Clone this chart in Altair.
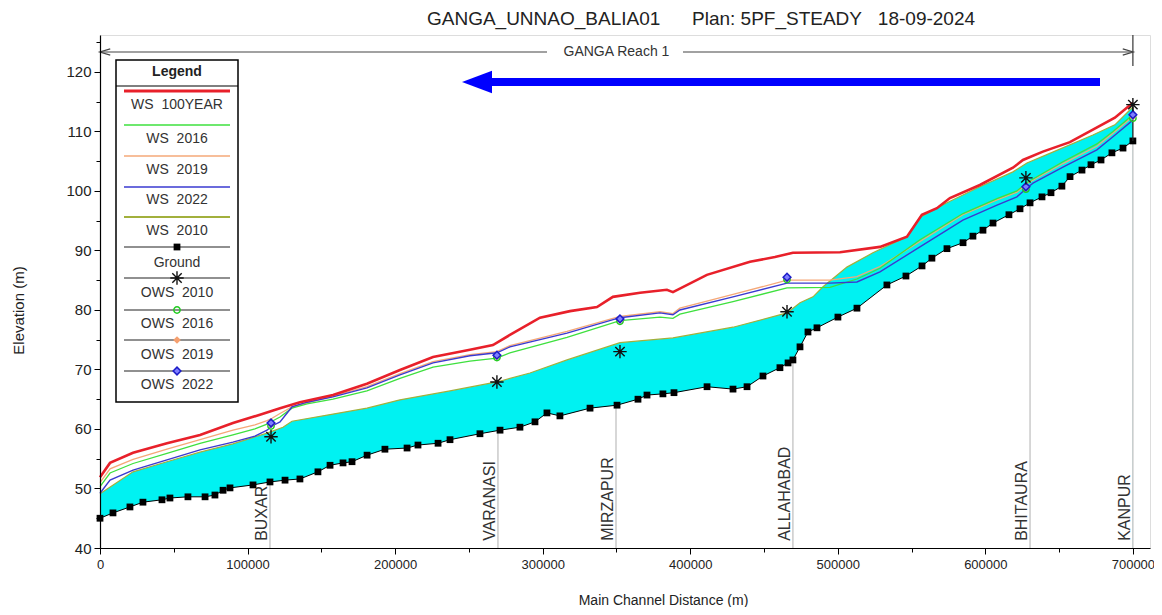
import altair as alt
import pandas as pd

FONT = "Liberation Sans"
TXT = "#222222"

# ---------------- data ----------------
ground_d = [0, 8800, 20300, 29100, 42000, 47400, 59600, 71200, 77900, 83400, 88100, 103700, 115200, 125400,
            135500, 147700, 155900, 164700, 170800, 181000, 193100, 208100, 215500, 229100, 237200, 257500,
            271100, 284600, 294800, 302900, 311700, 332100, 350400, 364600, 370700, 381500, 389000, 411400,
            429000, 438500, 449300, 460800, 466300, 469600, 474400, 479800, 485900, 500100, 513000, 533300,
            546200, 557100, 563800, 574000, 584900, 591600, 598400, 605200, 616000, 623500, 630300, 638400,
            644500, 651900, 657400, 665500, 671600, 678400, 685800, 693300, 700000]
ground_e = [45.0, 45.9, 46.9, 47.7, 48.1, 48.4, 48.6, 48.6, 48.9, 49.7, 50.1, 50.6, 51.1, 51.4, 51.6, 52.8,
            53.9, 54.3, 54.5, 55.6, 56.6, 56.8, 57.3, 57.6, 58.2, 59.2, 59.8, 60.3, 61.2, 62.7, 62.2, 63.5,
            64.0, 65.0, 65.7, 65.9, 66.1, 67.1, 66.7, 67.1, 68.9, 70.3, 71.1, 71.6, 73.8, 76.3, 77.0, 78.8,
            80.3, 84.2, 85.7, 87.4, 88.7, 90.3, 91.3, 92.4, 93.4, 94.6, 96.0, 97.0, 98.0, 99.0, 99.7, 100.8,
            102.4, 103.5, 104.4, 105.2, 106.4, 107.2, 108.4]

ws100_d = [0, 6800, 22400, 45400, 67800, 90100, 108400, 122000, 135500, 157900, 180900, 203300, 225700,
           250700, 266300, 277800, 298200, 318500, 336800, 347600, 366000, 384200, 388300, 411300, 440500,
           457400, 469600, 501500, 528600, 546900, 557000, 567200, 576000, 596300, 618700, 625500, 639000,
           657300, 672900, 687800, 700000]
ws100_e = [51.9, 54.3, 56.0, 57.6, 59.0, 61.0, 62.4, 63.5, 64.5, 65.7, 67.6, 69.9, 72.1, 73.3, 74.1, 75.8,
           78.7, 79.8, 80.5, 82.2, 82.9, 83.4, 83.0, 85.9, 88.1, 88.9, 89.6, 89.7, 90.6, 92.3, 96.0, 97.1,
           98.8, 101.0, 103.9, 105.2, 106.6, 108.2, 110.3, 112.3, 114.8]

ws_d = [0, 6800, 22400, 45400, 67800, 90100, 105000, 113200, 116600, 122000, 130100, 140300, 157900, 180900,
        203300, 225700, 250700, 269000, 277800, 316500, 352400, 379500, 388300, 393000, 429000, 465600,
        494700, 513000, 528600, 555700, 584800, 607900, 621400, 628200, 632300, 652600, 675600, 686500, 700000]
ws2022_e = [49.2, 51.4, 53.1, 54.8, 56.5, 57.8, 58.8, 59.8, 60.5, 61.2, 63.7, 64.5, 65.4, 66.9, 69.1, 71.1,
            72.3, 72.8, 73.8, 76.1, 78.7, 79.5, 79.2, 80.0, 82.2, 84.5, 84.5, 84.7, 86.4, 90.6, 95.1, 97.6,
            99.0, 100.5, 101.3, 104.0, 106.9, 109.1, 111.9]
ws2016_e = [50.3, 52.6, 54.2, 55.9, 57.6, 59.0, 60.0, 60.8, 61.3, 62.0, 63.5, 64.2, 65.0, 66.4, 68.5, 70.4,
            71.4, 71.9, 72.8, 75.4, 78.2, 78.8, 78.6, 79.3, 81.4, 83.7, 83.8, 85.2, 87.0, 91.8, 96.2, 98.7,
            100.0, 101.4, 102.0, 104.9, 107.9, 110.0, 112.8]
ws2019_e = [51.0, 53.3, 54.9, 56.6, 58.2, 59.8, 60.7, 61.4, 61.8, 62.6, 63.7, 64.4, 65.5, 67.1, 69.3, 71.3,
            72.5, 73.0, 74.0, 76.4, 78.9, 79.7, 79.4, 80.3, 82.6, 85.0, 85.0, 85.6, 87.3, 91.5, 96.0, 98.5,
            99.8, 101.2, 101.8, 104.6, 107.5, 109.7, 112.5]

ws2010_d = [0, 22400, 45400, 67800, 90100, 113200, 124000, 130100, 157900, 180900, 203300, 237200, 269000,
            291400, 316500, 352400, 388300, 429000, 465600, 474400, 483200, 490000, 506200, 523800, 546900,
            555700, 574000, 596300, 618700, 628200, 641700, 672900, 687800, 700000]
ws2010_e = [49.1, 52.8, 54.5, 56.1, 57.5, 59.3, 60.3, 61.3, 62.5, 63.5, 64.9, 66.4, 67.9, 69.4, 71.6, 74.5,
            75.3, 77.1, 79.5, 81.2, 82.2, 83.9, 87.2, 89.6, 92.3, 95.6, 98.0, 100.7, 103.2, 104.7, 106.1,
            109.4, 111.1, 114.1]

station_names = ["BUXAR", "VARANASI", "MIRZAPUR", "ALLAHABAD", "BHITAURA", "KANPUR"]
station_d = [115200, 269700, 349700, 469600, 630300, 700000]
station_ground = [51.1, 59.8, 64.0, 71.6, 98.0, 108.4]

ows_d = [115900, 269000, 352400, 465600, 627500, 700000]
ows2010_e = [58.7, 67.9, 73.0, 79.7, 102.2, 114.5]
ows2016_e = [60.5, 72.0, 78.1, 85.1, 100.3, 112.2]
ows2019_e = [60.8, 72.2, 78.3, 85.3, 100.5, 112.5]
ows2022_e = [61.0, 72.4, 78.5, 85.5, 100.7, 112.8]

legend_labels = ["WS\u00a0\u00a0100YEAR", "WS\u00a0\u00a02016", "WS\u00a0\u00a02019", "WS\u00a0\u00a02022",
                 "WS\u00a0\u00a02010", "Ground", "OWS\u00a0\u00a02010", "OWS\u00a0\u00a02016",
                 "OWS\u00a0\u00a02019", "OWS\u00a0\u00a02022"]

C_RED, C_GREEN, C_ORANGE, C_BLUE, C_OLIVE = "#e8202a", "#3ee03e", "#f5a878", "#3a3ad0", "#a2b03c"
C_CYAN = "#00f2f2"

# ---------------- layout ----------------
W, H = 1050, 513
LEFT, TOP = 100, 35
XMAX = 711600
YMIN, YMAX = 40, 126.2


def pxd(px):
    return (px - LEFT) * XMAX / W


def pye(py):
    return YMIN + (TOP + H - py) * (YMAX - YMIN) / H


XS = alt.Scale(domain=[0, XMAX], nice=False, zero=False)
YS = alt.Scale(domain=[YMIN, YMAX], nice=False, zero=False)

XA = alt.Axis(values=list(range(0, 700001, 50000)),
              labelExpr="datum.value % 100000 === 0 ? format(datum.value, 'd') : ''",
              title="Main Channel Distance (m)", titleX=563, titleY=52, titleBaseline="middle",
              titleFont=FONT, titleFontSize=14, titleFontWeight="normal", titleColor=TXT,
              labelFont=FONT, labelFontSize=13, labelColor=TXT, labelFlush=False, labelOverlap=False,
              labelPadding=4, tickColor="black", domainColor="black", domainWidth=1.2,
              tickSize={"condition": {"test": "datum.value % 100000 === 0", "value": 6}, "value": 4},
              grid=False, zindex=1)
YA = alt.Axis(values=list(range(40, 126, 5)),
              labelExpr="datum.value % 10 === 0 ? datum.label : ''",
              title="Elevation (m)", titleX=-82, titleY=275, titleBaseline="middle", titleAlign="center",
              titleFont=FONT, titleFontSize=15, titleFontWeight="normal", titleColor=TXT,
              labelFont=FONT, labelFontSize=15, labelColor=TXT, labelOverlap=False, labelPadding=3,
              tickColor="black", domainColor="black", domainWidth=1.2,
              tickSize={"condition": {"test": "datum.value % 10 === 0", "value": 6}, "value": 4},
              grid=False, zindex=1)


def X(f="d"):
    return alt.X(f"{f}:Q", scale=XS, axis=XA)


def Y(f="e"):
    return alt.Y(f"{f}:Q", scale=YS, axis=YA)


def frame(d, e):
    return pd.DataFrame({"d": d, "e": e, "base": [YMIN] * len(d)})


STAR = "M-1,0L1,0M0,-1L0,1M-0.7,-0.7L0.7,0.7M-0.7,0.7L0.7,-0.7"


def m_square(df):
    return alt.Chart(df).mark_point(shape="square", filled=True, color="black", size=46, opacity=1).encode(x=X(), y=Y())


def m_star(df):
    return alt.Chart(df).mark_point(shape=STAR, filled=False, color="#111111", size=180, strokeWidth=1.4,
                                    opacity=1).encode(x=X(), y=Y())


def m_circle(df):
    return alt.Chart(df).mark_point(shape="circle", filled=False, color="#22cc22", size=40, strokeWidth=1.5,
                                    opacity=1).encode(x=X(), y=Y())


def m_odiamond(df):
    return alt.Chart(df).mark_point(shape="diamond", filled=True, color="#f5a070", size=60,
                                    opacity=1).encode(x=X(), y=Y())


def m_bdiamond(df):
    return alt.Chart(df).mark_point(shape="diamond", filled=True, fill="#7f7fff", stroke="#1c1cc8",
                                    strokeWidth=1.5, size=60, opacity=1).encode(x=X(), y=Y())


layers = []

# cyan flow area between WS 2010 and the ground
w10 = frame(ws2010_d, ws2010_e)
gr = frame(ground_d, ground_e)
layers.append(alt.Chart(w10).mark_area(color=C_CYAN, opacity=1).encode(x=X(), y=Y(), y2="base:Q"))
layers.append(alt.Chart(gr).mark_area(color="white", opacity=1).encode(x=X(), y=Y(), y2="base:Q"))

# station lines and labels
st = pd.DataFrame({"d": station_d, "e": station_ground, "base": [YMIN] * 6, "name": station_names,
                   "ly": [41.2] * 6})
layers.append(alt.Chart(st).mark_rule(color="#bdbdbd", strokeWidth=1.2).encode(x=X(), y=Y(), y2="base:Q"))
layers.append(alt.Chart(st).mark_text(angle=270, align="left", baseline="bottom", font=FONT, fontSize=16,
                                      color="#333333").encode(x=X(), y=Y("ly"), text="name:N"))

# water surface lines
layers.append(alt.Chart(w10).mark_line(color=C_OLIVE, strokeWidth=1.2).encode(x=X(), y=Y()))
layers.append(alt.Chart(frame(ws_d, ws2019_e)).mark_line(color=C_ORANGE, strokeWidth=1.3).encode(x=X(), y=Y()))
layers.append(alt.Chart(frame(ws_d, ws2016_e)).mark_line(color=C_GREEN, strokeWidth=1.3).encode(x=X(), y=Y()))
layers.append(alt.Chart(frame(ws_d, ws2022_e)).mark_line(color=C_BLUE, strokeWidth=1.4).encode(x=X(), y=Y()))
layers.append(alt.Chart(frame(ws100_d, ws100_e)).mark_line(color=C_RED, strokeWidth=2.6).encode(x=X(), y=Y()))

# ground profile
layers.append(alt.Chart(gr).mark_line(color="black", strokeWidth=1).encode(x=X(), y=Y()))
layers.append(m_square(gr))
kan = pd.DataFrame({"d": [station_d[-1]], "e": [ws2010_e[-1]], "e2": [station_ground[-1]]})
layers.append(alt.Chart(kan).mark_rule(color="#222222", strokeWidth=1.3).encode(x=X(), y=Y(), y2="e2:Q"))

# observed water surfaces
layers.append(m_circle(frame(ows_d, ows2016_e)))
layers.append(m_odiamond(frame(ows_d, ows2019_e)))
layers.append(m_bdiamond(frame(ows_d, ows2022_e)))
layers.append(m_star(frame(ows_d, ows2010_e)))

# reach bracket "GANGA Reach 1"
ry = pye(52)
br = pd.DataFrame({"d": [0, pxd(683)], "x2": [pxd(547), 700000], "e": [ry, ry]})
layers.append(alt.Chart(br).mark_rule(color="#444444", strokeWidth=1.1).encode(x=X(), x2="x2:Q", y=Y()))
tick = pd.DataFrame({"d": [700000], "e": [YMAX], "e2": [pye(66)]})
layers.append(alt.Chart(tick).mark_rule(color="#444444", strokeWidth=1.3).encode(x=X(), y=Y(), y2="e2:Q"))
layers.append(alt.Chart(pd.DataFrame({"d": [pxd(105)], "e": [ry]})).mark_point(
    shape="M1,-0.6L-1,0L1,0.6", filled=False, color="#444444", size=110, strokeWidth=1.2, opacity=1
).encode(x=X(), y=Y()))
layers.append(alt.Chart(pd.DataFrame({"d": [pxd(1128)], "e": [ry]})).mark_point(
    shape="M-1,-0.6L1,0L-1,0.6", filled=False, color="#444444", size=110, strokeWidth=1.2, opacity=1
).encode(x=X(), y=Y()))
layers.append(alt.Chart(pd.DataFrame({"d": [350000], "e": [ry], "t": ["GANGA Reach 1"]})).mark_text(
    font=FONT, fontSize=14, color="#333333", baseline="middle", align="center"
).encode(x=X(), y=Y(), text="t:N"))

# blue flow-direction arrow
ay = pye(82)
arr = pd.DataFrame({"d": [pxd(477)], "x2": [pxd(1100)], "e": [ay]})
layers.append(alt.Chart(arr).mark_rule(color="#0000ff", strokeWidth=8, strokeCap="butt").encode(
    x=X(), x2="x2:Q", y=Y()))
layers.append(alt.Chart(arr).mark_point(shape="M-1,0L1,-0.75L1,0.75Z", filled=True, color="#0000ff",
                                        size=900, opacity=1).encode(x=X(), y=Y()))

# legend box (drawn inside the plot, as in the reference)
box = pd.DataFrame({"d": [pxd(116)], "x2": [pxd(238)], "e": [pye(60)], "e2": [pye(402)]})
layers.append(alt.Chart(box).mark_rect(fill="white", stroke="black", strokeWidth=1.5).encode(
    x=X(), x2="x2:Q", y=Y(), y2="e2:Q"))
hdr = pd.DataFrame({"d": [pxd(116)], "x2": [pxd(238)], "e": [pye(86)]})
layers.append(alt.Chart(hdr).mark_rule(color="black", strokeWidth=1.2).encode(x=X(), x2="x2:Q", y=Y()))
layers.append(alt.Chart(pd.DataFrame({"d": [pxd(177)], "e": [pye(72)], "t": ["Legend"]})).mark_text(
    font=FONT, fontSize=14, fontWeight="bold", color="#222222", baseline="middle", align="center"
).encode(x=X(), y=Y(), text="t:N"))

line_py = [91, 125, 156, 187, 217, 247, 278, 310, 340, 371]
label_py = [105, 139, 170, 200, 231, 263, 293, 324, 355, 385]
leg_colors = [C_RED, C_GREEN, C_ORANGE, C_BLUE, C_OLIVE, "#222222", "#222222", "#222222", "#222222", "#222222"]
leg_widths = [3, 1.4, 1.4, 1.4, 1.8, 1.2, 1.2, 1.2, 1.2, 1.2]
leg = pd.DataFrame({"d": [pxd(124)] * 10, "x2": [pxd(230)] * 10, "e": [pye(p) for p in line_py],
                    "col": leg_colors, "w": leg_widths})
layers.append(alt.Chart(leg).mark_rule().encode(x=X(), x2="x2:Q", y=Y(),
                                                color=alt.Color("col:N", scale=None),
                                                strokeWidth=alt.StrokeWidth("w:Q", scale=None)))
lab = pd.DataFrame({"d": [pxd(177)] * 10, "e": [pye(p) for p in label_py], "t": legend_labels})
layers.append(alt.Chart(lab).mark_text(font=FONT, fontSize=14, color="#333333", baseline="middle",
                                       align="center").encode(x=X(), y=Y(), text="t:N"))
mx = pxd(177)
layers.append(m_square(pd.DataFrame({"d": [mx], "e": [pye(line_py[5])]})))
layers.append(m_star(pd.DataFrame({"d": [mx], "e": [pye(line_py[6])]})))
layers.append(m_circle(pd.DataFrame({"d": [mx], "e": [pye(line_py[7])]})))
layers.append(m_odiamond(pd.DataFrame({"d": [mx], "e": [pye(line_py[8])]})))
layers.append(m_bdiamond(pd.DataFrame({"d": [mx], "e": [pye(line_py[9])]})))

title = alt.TitleParams(
    text="GANGA_UNNAO_BALIA01\u00a0\u00a0\u00a0\u00a0\u00a0\u00a0Plan: 5PF_STEADY\u00a0\u00a0\u00a018-09-2024",
    font=FONT, fontSize=19, fontWeight="normal", color="#222222", anchor="middle", frame="group",
    dx=76, offset=5)

chart = alt.layer(*layers).properties(
    width=W, height=H, title=title,
    padding={"left": 92, "top": 27, "right": 4, "bottom": 59},
    autosize=alt.AutoSizeParams(type="none"),
).configure_view(stroke=None).configure(font=FONT, background="white")

chart.save("out.html", embed_options={"renderer": "svg", "actions": False})
